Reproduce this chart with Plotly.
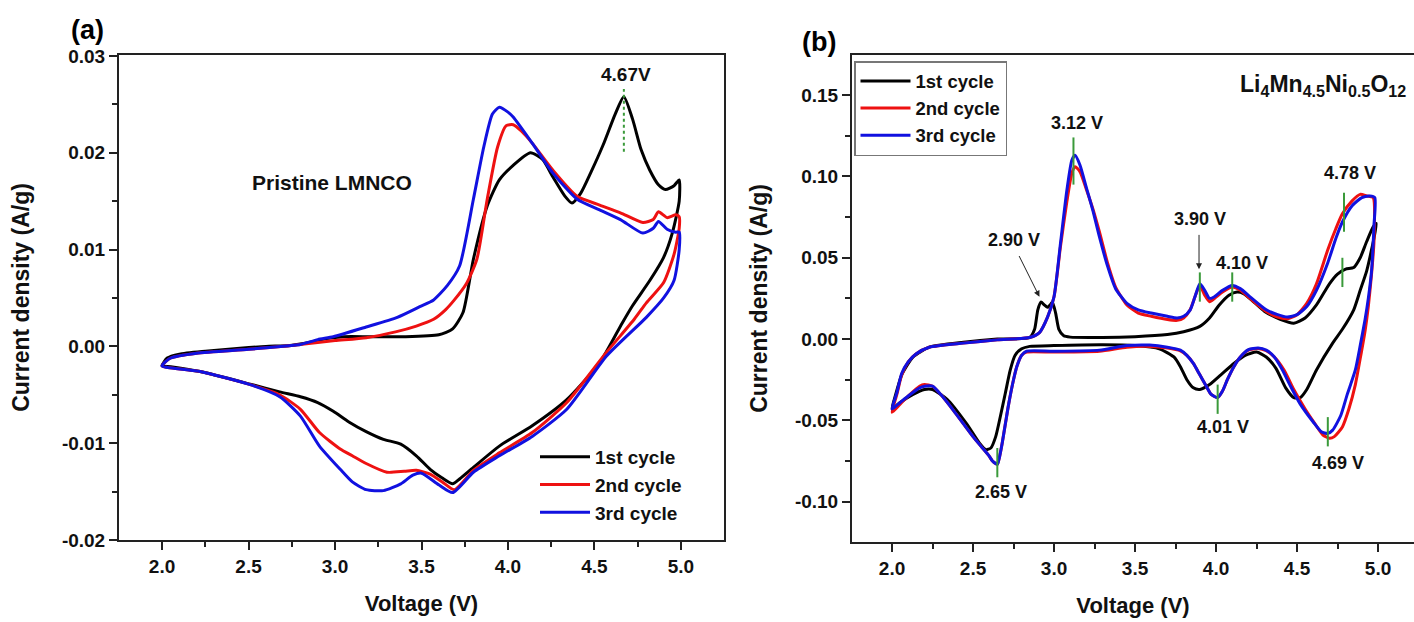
import plotly.graph_objects as go

# ---------------- Panel (a): Pristine LMNCO ----------------
a_v1 = [2.74, 2.85, 2.95, 3.05, 3.2, 3.4, 3.6, 3.68, 3.74, 3.80, 3.88, 3.95, 4.03, 4.13, 4.2, 4.26, 4.33,
        4.37, 4.42, 4.48, 4.55, 4.62, 4.67, 4.72, 4.77, 4.82, 4.87, 4.91, 4.96, 4.99,
        4.99, 4.95, 4.9, 4.82, 4.72, 4.66, 4.53, 4.34, 4.14, 3.95, 3.8, 3.72, 3.68, 3.62, 3.55, 3.47,
        3.38, 3.28, 3.18, 3.08, 2.99, 2.9, 2.8, 2.68, 2.51, 2.22, 2.05, 2.0,
        2.03, 2.1, 2.25, 2.45, 2.6, 2.74]
a_i1 = [0.0001, 0.0004, 0.0008, 0.0010, 0.0010, 0.0010, 0.0012, 0.0018, 0.0035, 0.0090, 0.0145, 0.0172,
        0.0187, 0.0200, 0.0193, 0.0175, 0.0155, 0.0148, 0.0158, 0.0180, 0.0208, 0.0240, 0.0258, 0.0235,
        0.0203, 0.0182, 0.0167, 0.0162, 0.0166, 0.0172,
        0.0150, 0.0117, 0.0092, 0.0068, 0.0042, 0.0024, -0.0017, -0.0055, -0.0082, -0.0103, -0.0125,
        -0.0137, -0.0142, -0.0136, -0.0127, -0.0113, -0.0101, -0.0096, -0.0088, -0.0078, -0.0067,
        -0.0058, -0.0052, -0.0047, -0.0039, -0.0026, -0.0021, -0.0020,
        -0.0012, -0.0008, -0.0005, -0.0002, 0.0000, 0.0001]

a_v2 = [2.0, 2.05, 2.2, 2.5, 2.75, 2.9, 3.0, 3.18, 3.35, 3.47, 3.57, 3.64, 3.69, 3.76, 3.82, 3.88, 3.94,
        3.99, 4.03, 4.08, 4.14, 4.26, 4.40, 4.53, 4.65, 4.78, 4.84, 4.87, 4.92, 4.97, 4.99,
        4.99, 4.96, 4.9, 4.8, 4.73, 4.57, 4.34, 4.14, 3.95, 3.8, 3.69, 3.62, 3.55, 3.47, 3.40, 3.3,
        3.18, 3.1, 3.03, 2.91, 2.8, 2.68, 2.5, 2.22, 2.0]
a_i2 = [-0.0020, -0.0012, -0.0007, -0.0003, 0.0001, 0.0004, 0.0006, 0.0009, 0.0015, 0.0021, 0.0028,
        0.0038, 0.0048, 0.0065, 0.0090, 0.0152, 0.0206, 0.0228, 0.0229, 0.0222, 0.0210, 0.0182, 0.0155,
        0.0146, 0.0138, 0.0128, 0.0131, 0.0139, 0.0133, 0.0136, 0.0134,
        0.0122, 0.0095, 0.0066, 0.0045, 0.0028, -0.0006, -0.0058, -0.0089, -0.0110, -0.0128, -0.0148,
        -0.0140, -0.0132, -0.0128, -0.0129, -0.0130, -0.0121, -0.0113, -0.0106, -0.0089, -0.0065,
        -0.0050, -0.0039, -0.0026, -0.0020]

a_v3 = [2.0, 2.05, 2.2, 2.5, 2.75, 2.8, 2.9, 2.99, 3.18, 3.36, 3.49, 3.57, 3.65, 3.72, 3.80, 3.86, 3.91,
        3.95, 4.0, 4.03, 4.14, 4.26, 4.40, 4.53, 4.65, 4.78, 4.84, 4.87, 4.92, 4.97, 4.99,
        4.99, 4.96, 4.9, 4.8, 4.57, 4.34, 4.14, 3.95, 3.8, 3.68, 3.6, 3.5, 3.45, 3.38, 3.28, 3.18, 3.1,
        3.03, 2.91, 2.8, 2.68, 2.5, 2.22, 2.0]
a_i3 = [-0.0020, -0.0012, -0.0007, -0.0003, 0.0001, 0.0002, 0.0007, 0.0010, 0.0020, 0.0030, 0.0041,
        0.0048, 0.0063, 0.0083, 0.0152, 0.0206, 0.0240, 0.0247, 0.0242, 0.0237, 0.0210, 0.0179, 0.0152,
        0.0141, 0.0131, 0.0117, 0.0122, 0.0129, 0.0121, 0.0118, 0.0118,
        0.0100, 0.0068, 0.0050, 0.0030, -0.0010, -0.0065, -0.0093, -0.0113, -0.0130, -0.0151, -0.0143,
        -0.0131, -0.0133, -0.0142, -0.0149, -0.0148, -0.0140, -0.0127, -0.0103, -0.0072, -0.0052,
        -0.0039, -0.0026, -0.0020]

# ---------------- Panel (b): Li4Mn4.5Ni0.5O12 ----------------
b_v1 = [2.85, 2.88, 2.90, 2.92, 2.94, 2.96, 2.98, 2.99, 3.01, 3.03, 3.06, 3.1, 3.3, 3.5, 3.7, 3.8, 3.9,
        3.96, 4.02, 4.08, 4.13, 4.17, 4.22, 4.3, 4.4, 4.48, 4.55, 4.62, 4.70, 4.75, 4.80, 4.85, 4.89,
        4.93, 4.97, 4.99,
        4.96, 4.93, 4.89, 4.85, 4.78, 4.72, 4.62, 4.56, 4.52, 4.48, 4.43, 4.37, 4.31, 4.25, 4.18, 4.11,
        4.03, 3.96, 3.9, 3.86, 3.82, 3.78, 3.74, 3.65, 3.5, 3.3, 3.0, 2.85, 2.80, 2.76, 2.73, 2.70,
        2.67, 2.64, 2.61, 2.58, 2.54, 2.46, 2.34, 2.25, 2.2, 2.13, 2.05, 2.0,
        2.02, 2.06, 2.13, 2.23, 2.44, 2.65, 2.85]
b_i1 = [0.001, 0.006, 0.018, 0.0228, 0.021, 0.0195, 0.0215, 0.0228, 0.016, 0.006, 0.002, 0.0012,
        0.001, 0.0015, 0.0028, 0.0045, 0.0078, 0.013, 0.021, 0.027, 0.029, 0.028, 0.024, 0.017, 0.012,
        0.0098, 0.013, 0.021, 0.034, 0.040, 0.043, 0.044, 0.050, 0.060, 0.069, 0.071,
        0.055, 0.042, 0.030, 0.018, 0.006, -0.0025, -0.019, -0.031, -0.036, -0.036, -0.030, -0.018,
        -0.011, -0.008, -0.010, -0.015, -0.022, -0.028, -0.031, -0.030, -0.025, -0.017, -0.011,
        -0.006, -0.004, -0.0035, -0.004, -0.0045, -0.006, -0.010, -0.019, -0.033, -0.047, -0.060,
        -0.067, -0.068, -0.064, -0.052, -0.037, -0.031, -0.031, -0.034, -0.039, -0.043,
        -0.035, -0.022, -0.011, -0.005, -0.002, 0.0, 0.001]

b_v2 = [2.0, 2.03, 2.06, 2.1, 2.15, 2.23, 2.44, 2.65, 2.85, 2.91, 2.96, 3.0, 3.04, 3.08, 3.11, 3.13,
        3.16, 3.2, 3.24, 3.28, 3.33, 3.38, 3.45, 3.52, 3.6, 3.7, 3.76, 3.80, 3.84, 3.87, 3.90, 3.93,
        3.96, 3.99, 4.04, 4.10, 4.15, 4.21, 4.31, 4.38, 4.44, 4.5, 4.56, 4.62, 4.69, 4.74, 4.78, 4.84,
        4.89, 4.93, 4.97,
        4.975, 4.96, 4.94, 4.92, 4.89, 4.86, 4.82, 4.78, 4.73, 4.70, 4.66, 4.61, 4.55, 4.48, 4.42,
        4.36, 4.31, 4.26, 4.2, 4.15, 4.11, 4.07, 4.04, 4.01, 3.97, 3.94, 3.9, 3.86, 3.82, 3.78, 3.7,
        3.59, 3.45, 3.28, 3.0, 2.83, 2.80, 2.77, 2.75, 2.72, 2.70, 2.68, 2.66, 2.65, 2.62, 2.60, 2.55,
        2.5, 2.44, 2.38, 2.3, 2.25, 2.2, 2.17, 2.1, 2.05, 2.0]
b_i2 = [-0.045, -0.034, -0.022, -0.014, -0.009, -0.005, -0.0025, -0.0005, 0.001, 0.004, 0.0135, 0.026,
        0.057, 0.085, 0.102, 0.106, 0.103, 0.092, 0.080, 0.066, 0.047, 0.032, 0.021, 0.016, 0.014,
        0.012, 0.0115, 0.013, 0.018, 0.026, 0.033, 0.027, 0.023, 0.025, 0.029, 0.032, 0.030, 0.025,
        0.017, 0.0135, 0.0125, 0.015, 0.022, 0.034, 0.055, 0.068, 0.077, 0.085, 0.089, 0.088, 0.087,
        0.060, 0.040, 0.020, 0.005, -0.012, -0.028, -0.043, -0.054, -0.060, -0.061, -0.059, -0.052,
        -0.043, -0.031, -0.019, -0.011, -0.0072, -0.0058, -0.0068, -0.011, -0.017, -0.025, -0.032,
        -0.036, -0.034, -0.029, -0.022, -0.015, -0.010, -0.0072, -0.0055, -0.0045, -0.005, -0.0075,
        -0.008, -0.008, -0.010, -0.017, -0.025, -0.040, -0.052, -0.064, -0.074, -0.077, -0.075,
        -0.072, -0.066, -0.060, -0.052, -0.044, -0.034, -0.029, -0.028, -0.029, -0.035, -0.040, -0.045]

b_v3 = [2.0, 2.03, 2.06, 2.1, 2.15, 2.23, 2.44, 2.65, 2.85, 2.91, 2.96, 3.0, 3.04, 3.08, 3.11, 3.13,
        3.16, 3.2, 3.24, 3.28, 3.33, 3.38, 3.45, 3.52, 3.6, 3.7, 3.76, 3.80, 3.84, 3.87, 3.90, 3.93,
        3.96, 3.99, 4.04, 4.10, 4.15, 4.21, 4.31, 4.38, 4.44, 4.5, 4.56, 4.62, 4.69, 4.74, 4.78, 4.84,
        4.9, 4.95, 4.98,
        4.975, 4.96, 4.94, 4.92, 4.89, 4.86, 4.81, 4.77, 4.72, 4.69, 4.65, 4.60, 4.52, 4.46, 4.41,
        4.36, 4.31, 4.26, 4.2, 4.15, 4.11, 4.07, 4.04, 4.01, 3.97, 3.94, 3.9, 3.86, 3.82, 3.78, 3.7,
        3.59, 3.45, 3.28, 3.0, 2.83, 2.80, 2.77, 2.75, 2.72, 2.70, 2.68, 2.66, 2.65, 2.62, 2.60, 2.55,
        2.5, 2.44, 2.38, 2.3, 2.25, 2.2, 2.17, 2.1, 2.05, 2.0]
b_i3 = [-0.043, -0.033, -0.021, -0.014, -0.009, -0.005, -0.0025, -0.0005, 0.001, 0.004, 0.0135, 0.026,
        0.059, 0.092, 0.110, 0.113, 0.107, 0.093, 0.079, 0.063, 0.045, 0.031, 0.022, 0.018, 0.016,
        0.014, 0.013, 0.014, 0.0178, 0.026, 0.034, 0.030, 0.025, 0.026, 0.030, 0.033, 0.031, 0.026,
        0.018, 0.015, 0.0135, 0.015, 0.020, 0.030, 0.047, 0.062, 0.072, 0.082, 0.087, 0.088, 0.087,
        0.070, 0.042, 0.025, 0.012, -0.004, -0.019, -0.034, -0.047, -0.056, -0.058, -0.057, -0.051,
        -0.040, -0.029, -0.019, -0.011, -0.0068, -0.0055, -0.0065, -0.011, -0.017, -0.025, -0.032,
        -0.036, -0.034, -0.029, -0.022, -0.015, -0.010, -0.0068, -0.005, -0.0037, -0.004, -0.0068,
        -0.0075, -0.0075, -0.010, -0.017, -0.025, -0.040, -0.052, -0.064, -0.074, -0.077, -0.075,
        -0.072, -0.066, -0.060, -0.052, -0.044, -0.034, -0.029, -0.029, -0.030, -0.035, -0.039, -0.043]

cycle_names = ["1st cycle", "2nd cycle", "3rd cycle"]
cycle_colors = ["#000000", "#ee1111", "#1111e0"]

a_ticks_x = [2.0, 2.5, 3.0, 3.5, 4.0, 4.5, 5.0]
a_ticks_y = [-0.02, -0.01, 0.0, 0.01, 0.02, 0.03]
a_ticktext_y = ["-0.02", "-0.01", "0.00", "0.01", "0.02", "0.03"]
b_ticks_y = [-0.10, -0.05, 0.0, 0.05, 0.10, 0.15]
b_ticktext_y = ["-0.10", "-0.05", "0.00", "0.05", "0.10", "0.15"]

# peak labels panel (b): (text, x, y)
b_labels = [("3.12 V", 3.14, 0.133), ("2.90 V", 2.75, 0.061), ("3.90 V", 3.90, 0.074),
            ("4.10 V", 4.16, 0.047), ("4.78 V", 4.83, 0.102), ("4.01 V", 4.04, -0.054),
            ("4.69 V", 4.75, -0.076), ("2.65 V", 2.67, -0.094)]
# green marker ticks panel (b): (x, y0, y1)
b_marks = [(3.12, 0.095, 0.124), (3.90, 0.023, 0.041), (4.10, 0.023, 0.041), (4.79, 0.066, 0.090),
           (4.78, 0.032, 0.050), (4.01, -0.046, -0.028), (4.69, -0.066, -0.048), (2.65, -0.085, -0.067)]

FONT = "Arial, Liberation Sans, sans-serif"
W, H = 1414, 622

fig = go.Figure()
for v, i, n, c in zip([a_v1, a_v2, a_v3], [a_i1, a_i2, a_i3], cycle_names, cycle_colors):
    fig.add_trace(go.Scatter(x=v, y=i, mode="lines", name=n, legend="legend",
                             line=dict(color=c, width=3, shape="spline", smoothing=0.6),
                             xaxis="x", yaxis="y"))
for v, i, n, c in zip([b_v1, b_v2, b_v3], [b_i1, b_i2, b_i3], cycle_names, cycle_colors):
    fig.add_trace(go.Scatter(x=v, y=i, mode="lines", name=n, legend="legend2",
                             line=dict(color=c, width=3, shape="spline", smoothing=0.6),
                             xaxis="x2", yaxis="y2"))


def px_x(p):
    return p / W


def px_y(p):
    return (H - p) / H


tickfont = dict(family=FONT, size=19, color="#111", weight="bold")
xtitlefont = dict(family=FONT, size=22, color="#111", weight="bold")
ytitlefont = dict(family=FONT, size=23, color="#111", weight="bold")
common = dict(showgrid=False, zeroline=False, showline=True, linecolor="#222", linewidth=2,
              ticks="outside", ticklen=8, tickwidth=2, tickcolor="#222", tickfont=tickfont,
              automargin=False)
minor_x = dict(ticks="outside", dtick=0.25, tick0=2.0, ticklen=5, tickwidth=2, tickcolor="#222")

fig.update_layout(
    width=W, height=H, margin=dict(l=0, r=0, t=0, b=0, autoexpand=False),
    paper_bgcolor="white", plot_bgcolor="white",
    xaxis=dict(domain=[px_x(119), px_x(724)], range=[1.751, 5.249], anchor="y", mirror=True,
               tickvals=a_ticks_x, tickformat=".1f", minor=minor_x,
               title=dict(text="Voltage (V)", font=xtitlefont, standoff=20), **common),
    yaxis=dict(domain=[px_y(540), px_y(55)], range=[-0.02, 0.0301], anchor="x", mirror=True,
               tickvals=a_ticks_y, ticktext=a_ticktext_y,
               minor=dict(ticks="outside", dtick=0.005, tick0=0, ticklen=5, tickwidth=2, tickcolor="#222"),
               title=dict(text="Current density (A/g)", font=ytitlefont, standoff=26), **common),
    xaxis2=dict(domain=[px_x(852), 1.0], range=[1.753, 5.222], anchor="y2", mirror=True,
                tickvals=a_ticks_x, tickformat=".1f", minor=minor_x,
                title=dict(text="Voltage (V)", font=xtitlefont, standoff=20), **common),
    yaxis2=dict(domain=[px_y(542), px_y(55)], range=[-0.1248, 0.1747], anchor="x2", mirror=False,
                tickvals=b_ticks_y, ticktext=b_ticktext_y,
                minor=dict(ticks="outside", dtick=0.025, tick0=0, ticklen=5, tickwidth=2, tickcolor="#222"),
                title=dict(text="Current density (A/g)", font=ytitlefont, standoff=21), **common),
    legend=dict(x=px_x(535), y=px_y(438), xanchor="left", yanchor="top", bgcolor="rgba(0,0,0,0)",
                borderwidth=0, font=dict(family=FONT, size=19, color="#111", weight="bold"),
                itemwidth=50, tracegroupgap=0),
    legend2=dict(x=px_x(854), y=px_y(61), xanchor="left", yanchor="top", bgcolor="white",
                 bordercolor="#777", borderwidth=1.5,
                 font=dict(family=FONT, size=18.5, color="#111", weight="bold"),
                 itemwidth=50, tracegroupgap=0),
    showlegend=True,
)

ann = []
ann.append(dict(text="(a)", x=px_x(87), y=px_y(30), xref="paper", yref="paper", showarrow=False,
                xanchor="center", yanchor="middle",
                font=dict(family=FONT, size=27, color="#000", weight="bold")))
ann.append(dict(text="(b)", x=px_x(819), y=px_y(42), xref="paper", yref="paper", showarrow=False,
                xanchor="center", yanchor="middle",
                font=dict(family=FONT, size=27, color="#000", weight="bold")))
ann.append(dict(text="Pristine LMNCO", x=2.98, y=0.0169, xref="x", yref="y", showarrow=False,
                xanchor="center", yanchor="middle",
                font=dict(family=FONT, size=21, color="#111", weight="bold")))
ann.append(dict(text="4.67V", x=4.68, y=0.0281, xref="x", yref="y", showarrow=False,
                xanchor="center", yanchor="middle",
                font=dict(family=FONT, size=19, color="#111", weight="bold")))
ann.append(dict(text="Li<sub>4</sub>Mn<sub>4.5</sub>Ni<sub>0.5</sub>O<sub>12</sub>", x=4.66, y=0.156,
                xref="x2", yref="y2", xanchor="center", yanchor="middle", showarrow=False,
                font=dict(family=FONT, size=23, color="#111", weight="bold")))
for t, x, y in b_labels:
    ann.append(dict(text=t, x=x, y=y, xref="x2", yref="y2", showarrow=False,
                    xanchor="center", yanchor="middle",
                    font=dict(family=FONT, size=18, color="#111", weight="bold")))
# arrows
ann.append(dict(text="", x=2.91, y=0.026, ax=2.78, ay=0.052, xref="x2", yref="y2", axref="x2", ayref="y2",
                showarrow=True, arrowhead=2, arrowsize=1.2, arrowwidth=1, arrowcolor="#222"))
ann.append(dict(text="", x=3.895, y=0.043, ax=3.895, ay=0.065, xref="x2", yref="y2", axref="x2", ayref="y2",
                showarrow=True, arrowhead=2, arrowsize=1.2, arrowwidth=1, arrowcolor="#222"))
fig.update_layout(annotations=ann)

shapes = [dict(type="line", xref="x", yref="y", x0=4.67, x1=4.67, y0=0.0201, y1=0.0266,
               line=dict(color="#3a9a3a", width=2, dash="dot"))]
for x, y0, y1 in b_marks:
    shapes.append(dict(type="line", xref="x2", yref="y2", x0=x, x1=x, y0=y0, y1=y1,
                       line=dict(color="#3a9a3a", width=2)))
fig.update_layout(shapes=shapes)

fig.write_html("out.html", config={"displayModeBar": False},
               post_script="document.body.style.margin='0px';")
